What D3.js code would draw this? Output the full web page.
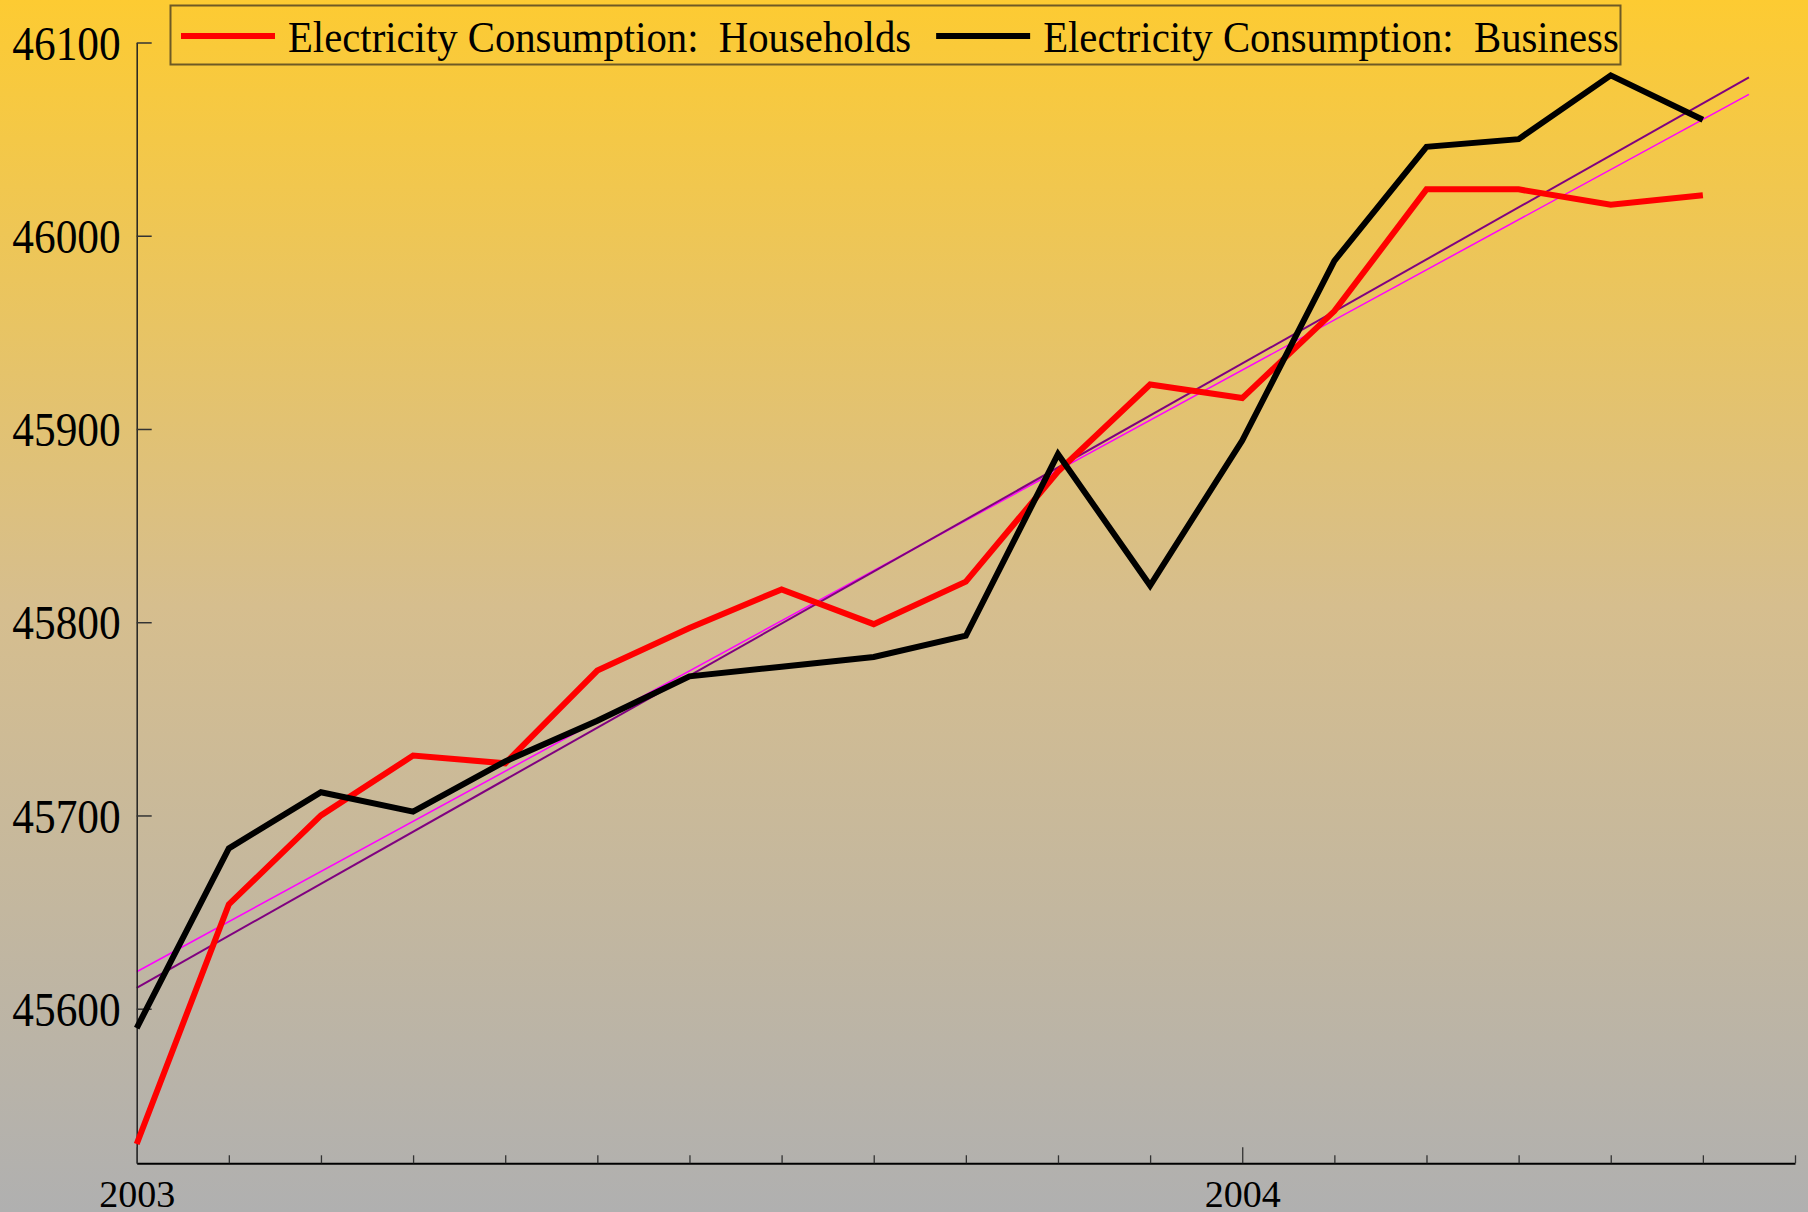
<!DOCTYPE html>
<html>
<head>
<meta charset="utf-8">
<script src="https://cdn.jsdelivr.net/npm/d3@7"></script>
<style>
    html, body { margin: 0; padding: 0; }
    body { width: 1808px; height: 1212px; overflow: hidden; }
    svg { display: block; font-family: "Liberation Serif", "Times New Roman", serif; }
</style>
</head>
<body>
<div id="chart"></div>
<script>

// monthly values, Jan 2003 .. Jun 2004
const months = ["2003-01", "2003-02", "2003-03", "2003-04", "2003-05", "2003-06",
    "2003-07", "2003-08", "2003-09", "2003-10", "2003-11", "2003-12",
    "2004-01", "2004-02", "2004-03", "2004-04", "2004-05", "2004-06"];

const households = [45530, 45654, 45700, 45731, 45727, 45775, 45797, 45817, 45799,
    45821, 45878, 45923, 45916, 45961, 46024, 46024, 46016, 46021];

const business = [45590, 45683, 45712, 45702, 45728, 45749, 45772, 45777, 45782,
    45793, 45887, 45819, 45894, 45987, 46046, 46050, 46083, 46060];

const seriesNames = ["Electricity Consumption:  Households", "Electricity Consumption:  Business"];
const seriesColors = ["#ff0000", "#000000"];
const trendColors = ["#ff00ff", "#800080"];

const yTicks = [45600, 45700, 45800, 45900, 46000, 46100];
const yearLabels = ["2003", "2004"];

const width = 1808, height = 1212;
const margin = {top: 42.5, right: 13, bottom: 48.7, left: 136.7};

const svg = d3.select("#chart").append("svg")
    .attr("width", width)
    .attr("height", height);

// background gradient, gold at top to grey at bottom
const grad = svg.append("defs").append("linearGradient")
    .attr("id", "bg")
    .attr("x1", 0).attr("y1", 0).attr("x2", 0).attr("y2", 1);
grad.append("stop").attr("offset", "0%").attr("stop-color", "#fdcb32");
grad.append("stop").attr("offset", "50%").attr("stop-color", "#d6be8e");
grad.append("stop").attr("offset", "100%").attr("stop-color", "#b0b0b0");

svg.append("rect")
    .attr("width", width)
    .attr("height", height)
    .attr("fill", "url(#bg)");

// scales
const x = d3.scaleLinear()
    .domain([0, months.length])
    .range([margin.left, width - margin.right]);

const y = d3.scaleLinear()
    .domain([45520, 46100])
    .range([height - margin.bottom, margin.top]);

// least squares fit for the trend lines
function fit(values) {
    const mx = d3.mean(values, (d, i) => i);
    const my = d3.mean(values);
    let sxy = 0, sxx = 0;
    values.forEach((v, i) => {
        sxy += (i - mx) * (v - my);
        sxx += (i - mx) * (i - mx);
    });
    const slope = sxy / sxx;
    return {a: my - slope * mx, b: slope};
}

const trendEnd = months.length - 0.5;

[households, business].forEach((vals, k) => {
    const f = fit(vals);
    svg.append("line")
        .attr("x1", x(0))
        .attr("y1", y(f.a))
        .attr("x2", x(trendEnd))
        .attr("y2", y(f.a + f.b * trendEnd))
        .attr("stroke", trendColors[k])
        .attr("stroke-width", k == 0 ? 1.5 : 2);
});

// axes
const yAxis = svg.append("g")
    .attr("transform", `translate(${margin.left},0)`)
    .call(d3.axisLeft(y)
        .tickValues(yTicks)
        .tickSizeInner(-15)
        .tickSizeOuter(0)
        .tickPadding(16)
        .tickFormat(d3.format("d")));

yAxis.attr("font-family", null).attr("font-size", 49);
yAxis.select(".domain").attr("stroke", "#222").attr("stroke-width", 1.5);
yAxis.selectAll(".tick line").attr("stroke", "#333").attr("stroke-width", 1.5);
// labels are a bit condensed in the original
yAxis.selectAll(".tick text")
    .attr("fill", "#000")
    .attr("dy", "0.34em")
    .attr("x", -16 / 0.885)
    .attr("transform", "scale(0.885,1)");

const xAxis = svg.append("g")
    .attr("transform", `translate(0,${height - margin.bottom})`)
    .call(d3.axisBottom(x)
        .tickValues(d3.range(0, months.length + 1))
        .tickSizeInner(-8)
        .tickSizeOuter(0)
        .tickFormat(i => i % 12 == 0 ? yearLabels[i / 12] : ""));

xAxis.attr("font-family", null).attr("font-size", 38);
xAxis.select(".domain").attr("stroke", "#000").attr("stroke-width", 2);
xAxis.selectAll(".tick line").attr("stroke", "#333").attr("stroke-width", 1.3);
xAxis.selectAll(".tick").filter(d => d % 12 == 0).select("line").attr("y2", -16);
xAxis.selectAll(".tick text")
    .attr("fill", "#000")
    .attr("y", 43.4)
    .attr("dy", null);

// data lines
const line = d3.line()
    .x((d, i) => x(i))
    .y(d => y(d));

[households, business].forEach((vals, k) => {
    svg.append("path")
        .datum(vals)
        .attr("fill", "none")
        .attr("stroke", seriesColors[k])
        .attr("stroke-width", 6)
        .attr("stroke-linejoin", "miter")
        .attr("d", line);
});

// legend
const legend = svg.append("g");

legend.append("rect")
    .attr("x", 170.5)
    .attr("y", 5.5)
    .attr("width", 1450)
    .attr("height", 59)
    .attr("fill", "none")
    .attr("stroke", "#6e5a25")
    .attr("stroke-width", 2);

let lx = 181;
seriesNames.forEach((name, k) => {
    legend.append("line")
        .attr("x1", lx).attr("x2", lx + 94)
        .attr("y1", 36).attr("y2", 36)
        .attr("stroke", seriesColors[k])
        .attr("stroke-width", 6);
    const t = legend.append("text")
        .attr("transform", `translate(${lx + 107},51.7) scale(0.905,1)`)
        .attr("font-size", 45)
        .style("white-space", "pre")
        .attr("fill", "#000")
        .text(name);
    lx = lx + 107 + t.node().getComputedTextLength() * 0.905 + 25;
});

</script>
</body>
</html>
